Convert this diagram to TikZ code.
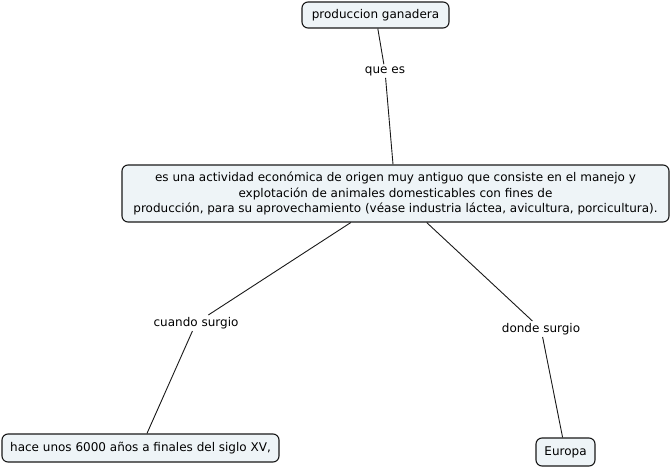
\documentclass[tikz,border=0pt]{standalone}
\usepackage{fontspec}
\setmainfont{DejaVu Sans}
\definecolor{conceptfill}{RGB}{238,244,247}
\definecolor{conceptline}{RGB}{25,25,25}
\begin{document}
\begin{tikzpicture}[x=1pt,y=-1pt,
  concept/.style={draw=conceptline,fill=conceptfill,rounded corners=6pt,line width=1.1pt,
    inner xsep=6pt,inner ysep=4pt,font=\fontsize{12}{15.5}\selectfont,align=center},
  linklabel/.style={fill=white,inner sep=2pt,font=\fontsize{12}{14}\selectfont},
  link/.style={draw=conceptline,line width=0.9pt}]
  \useasboundingbox (0,0) rectangle (671,468);

  \node[concept,minimum width=147pt,minimum height=26pt] (prod) at (375.5,15) {produccion ganadera};
  \node[concept,minimum width=547pt,minimum height=57pt] (def) at (395.5,193.5)
    {es una actividad económica de origen muy antiguo que consiste en el manejo y\\
     explotación de animales domesticables con fines de\\
     producción, para su aprovechamiento (véase industria láctea, avicultura, porcicultura).};
  \node[concept,minimum width=277pt,minimum height=28pt] (hace) at (140.5,448) {hace unos 6000 años a finales del siglo XV,};
  \node[concept,minimum width=59pt,minimum height=28pt] (eur) at (565.5,452) {Europa};

  \node[linklabel] (quees) at (385,71) {que es};
  \node[linklabel] (cuando) at (196,323) {cuando surgio};
  \node[linklabel] (donde) at (541,329) {donde surgio};

  \draw[link] (prod) -- (quees);
  \draw[link] (quees) -- (def);
  \draw[link] (def) -- (cuando);
  \draw[link] (cuando) -- (hace);
  \draw[link] (def) -- (donde);
  \draw[link] (donde) -- (eur);
\end{tikzpicture}
\end{document}
